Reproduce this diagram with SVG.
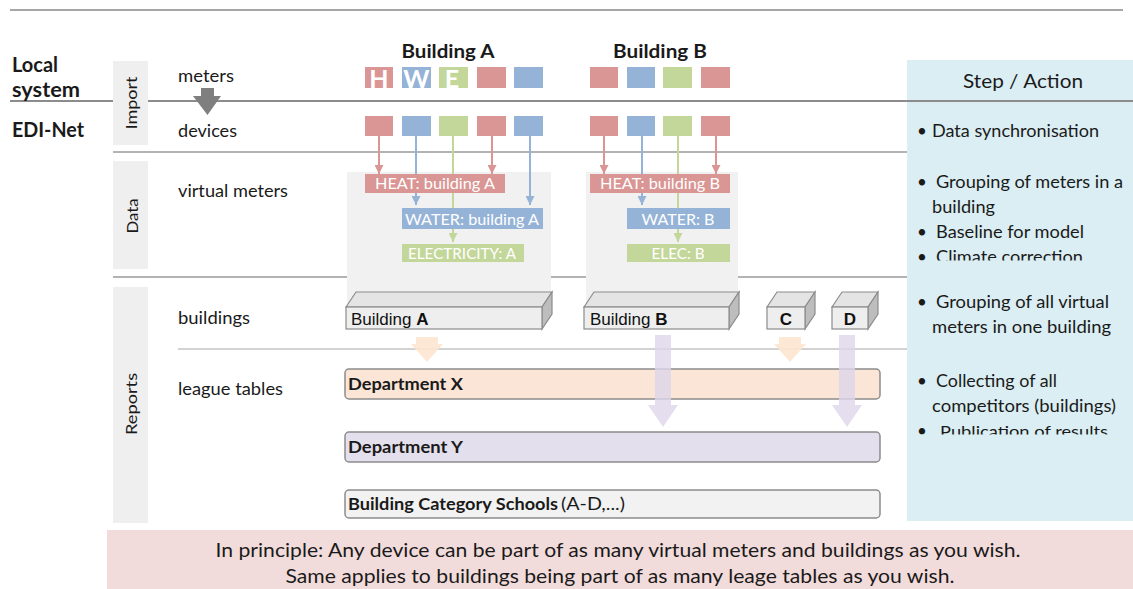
<svg xmlns="http://www.w3.org/2000/svg" width="1133" height="589" viewBox="0 0 1133 589">
<style>
.t{font-family:Lato,"Open Sans","Liberation Sans",sans-serif;fill:#1a1a1a}
.b{font-weight:bold}
.lbl{font-size:17px}
.tab{fill:#efefef}
.sep{stroke:#9a9a9a;stroke-width:1.5}
.red{fill:#da9694}
.blue{fill:#95b3d7}
.green{fill:#c4d79b}
.wt{font-family:Lato,"Open Sans",sans-serif;fill:#ffffff;font-size:16px;text-anchor:middle}
.cont{fill:#f1f1f1}
.front{fill:#eeeeee;stroke:#8c8c8c;stroke-width:1.2}
.top{fill:#e4e4e4;stroke:#8c8c8c;stroke-width:1.2}
.side{fill:#bdbdbd;stroke:#8c8c8c;stroke-width:1.2}
.bt{font-family:"Liberation Sans",Arial,sans-serif;font-size:17px;fill:#111}
.bar{stroke:#8c8c8c;stroke-width:1.5}
.rp{font-family:Lato,"Open Sans",sans-serif;font-size:17px;fill:#1a1a1a}
.oar{fill:#fde5d2;opacity:0.9}
.lar{fill:#ddd6ea;opacity:0.8}
</style>
<defs>
<marker id="mr" markerWidth="9" markerHeight="9" refX="9" refY="4.5" orient="auto" markerUnits="userSpaceOnUse"><path d="M0,0 L9,4.5 L0,9 z" fill="#da9694"/></marker>
<marker id="mb" markerWidth="9" markerHeight="9" refX="9" refY="4.5" orient="auto" markerUnits="userSpaceOnUse"><path d="M0,0 L9,4.5 L0,9 z" fill="#95b3d7"/></marker>
<marker id="mg" markerWidth="9" markerHeight="9" refX="9" refY="4.5" orient="auto" markerUnits="userSpaceOnUse"><path d="M0,0 L9,4.5 L0,9 z" fill="#c4d79b"/></marker>
<clipPath id="c1"><rect x="907" y="240" width="226" height="20.5"/></clipPath>
<clipPath id="c2"><rect x="907" y="415" width="226" height="19.5"/></clipPath>
</defs>

<rect width="1133" height="589" fill="#ffffff"/>

<!-- right panel -->
<g id="steps">
<rect x="907" y="60" width="226" height="461" fill="#daeef3"/>
<text class="rp" x="1023" y="88" text-anchor="middle" style="font-size:20px" textLength="120" lengthAdjust="spacingAndGlyphs">Step / Action</text>
<text class="rp" x="917" y="137">•</text><text class="rp" x="932" y="137" textLength="167" lengthAdjust="spacingAndGlyphs">Data synchronisation</text>
<text class="rp" x="917" y="188">•</text><text class="rp" x="936" y="188" textLength="187" lengthAdjust="spacingAndGlyphs">Grouping of meters in a</text>
<text class="rp" x="932" y="213" textLength="63" lengthAdjust="spacingAndGlyphs">building</text>
<text class="rp" x="917" y="238">•</text><text class="rp" x="936" y="238" textLength="148" lengthAdjust="spacingAndGlyphs">Baseline for model</text>
<g clip-path="url(#c1)"><text class="rp" x="917" y="263">•</text><text class="rp" x="936" y="263" textLength="147" lengthAdjust="spacingAndGlyphs">Climate correction</text></g>
<text class="rp" x="917" y="308">•</text><text class="rp" x="936" y="308" textLength="173" lengthAdjust="spacingAndGlyphs">Grouping of all virtual</text>
<text class="rp" x="932" y="333" textLength="179" lengthAdjust="spacingAndGlyphs">meters in one building</text>
<text class="rp" x="917" y="387">•</text><text class="rp" x="936" y="387" textLength="121" lengthAdjust="spacingAndGlyphs">Collecting of all</text>
<text class="rp" x="932" y="412" textLength="184" lengthAdjust="spacingAndGlyphs">competitors (buildings)</text>
<g clip-path="url(#c2)"><text class="rp" x="917" y="437">•</text><text class="rp" x="940" y="437" style="font-size:16px" textLength="168" lengthAdjust="spacingAndGlyphs">Publication of results</text></g>
</g>

<!-- separators -->
<g id="separators">
<line x1="10" y1="10" x2="1123" y2="10" stroke="#a6a6a6" stroke-width="2"/>
<line x1="10" y1="101" x2="113" y2="101" stroke="#8c8c8c" stroke-width="2"/>
<line x1="148" y1="101" x2="1133" y2="101" stroke="#8c8c8c" stroke-width="2"/>
<line class="sep" x1="113" y1="152" x2="907" y2="152"/>
<line class="sep" x1="113" y1="277" x2="907" y2="277"/>
<line x1="178" y1="349" x2="907" y2="349" stroke="#a6a6a6" stroke-width="1"/>
</g>

<!-- left labels -->
<g id="systems">
<text class="t b" x="12" y="72" style="font-size:20px" textLength="46" lengthAdjust="spacingAndGlyphs">Local</text>
<text class="t b" x="12" y="97" style="font-size:20px" textLength="68" lengthAdjust="spacingAndGlyphs">system</text>
<text class="t b" x="12" y="137" style="font-size:20px" textLength="72" lengthAdjust="spacingAndGlyphs">EDI-Net</text>
</g>

<g id="tab-import">
<rect class="tab" x="113" y="61" width="35" height="84"/>
<text class="t" transform="translate(137,103) rotate(-90)" text-anchor="middle" style="font-size:16px" textLength="53" lengthAdjust="spacingAndGlyphs">Import</text>
</g>
<g id="tab-data">
<rect class="tab" x="113" y="161" width="35" height="108"/>
<text class="t" transform="translate(138,216) rotate(-90)" text-anchor="middle" style="font-size:16px" textLength="35" lengthAdjust="spacingAndGlyphs">Data</text>
</g>
<g id="tab-reports">
<rect class="tab" x="113" y="287" width="35" height="236"/>
<text class="t" transform="translate(137,404) rotate(-90)" text-anchor="middle" style="font-size:16px" textLength="62" lengthAdjust="spacingAndGlyphs">Reports</text>
</g>

<g id="row-labels">
<text class="t lbl" x="178" y="82" textLength="56" lengthAdjust="spacingAndGlyphs">meters</text>
<text class="t lbl" x="178" y="137" textLength="59" lengthAdjust="spacingAndGlyphs">devices</text>
<text class="t lbl" x="178" y="197" textLength="110" lengthAdjust="spacingAndGlyphs">virtual meters</text>
<text class="t lbl" x="178" y="324" textLength="72" lengthAdjust="spacingAndGlyphs">buildings</text>
<text class="t lbl" x="178" y="395" textLength="105" lengthAdjust="spacingAndGlyphs">league tables</text>
</g>

<g id="import-arrow">
<polygon points="201,88 214,88 214,96 221,96 207.5,115 193,96 201,96" fill="#7f7f7f"/>
</g>

<!-- building titles -->
<g id="title-a"><text class="t b" x="448" y="58" text-anchor="middle" style="font-size:19px" textLength="93" lengthAdjust="spacingAndGlyphs">Building A</text></g>
<g id="title-b"><text class="t b" x="660" y="58" text-anchor="middle" style="font-size:19px" textLength="94" lengthAdjust="spacingAndGlyphs">Building B</text></g>

<!-- meters -->
<g id="meters-a">
<rect class="red" x="365" y="67" width="28" height="21"/>
<rect class="blue" x="402" y="67" width="29" height="21"/>
<rect class="green" x="439" y="67" width="29" height="21"/>
<rect class="red" x="477" y="67" width="29" height="21"/>
<rect class="blue" x="514" y="67" width="29" height="21"/>
<text class="wt" x="379" y="88" style="font-size:25px;font-weight:bold">H</text>
<text class="wt" x="416.5" y="88" style="font-size:25px;font-weight:bold">W</text>
<text class="wt" x="452" y="88" style="font-size:25px;font-weight:bold">E</text>
</g>
<g id="meters-b">
<rect class="red" x="590" y="67" width="28" height="21"/>
<rect class="blue" x="627" y="67" width="28" height="21"/>
<rect class="green" x="663" y="67" width="29" height="21"/>
<rect class="red" x="701" y="67" width="29" height="21"/>
</g>

<!-- devices -->
<g id="devices-a">
<rect class="red" x="365" y="116" width="28" height="20"/>
<rect class="blue" x="402" y="116" width="29" height="20"/>
<rect class="green" x="439" y="116" width="29" height="20"/>
<rect class="red" x="477" y="116" width="29" height="20"/>
<rect class="blue" x="514" y="116" width="29" height="20"/>
</g>
<g id="devices-b">
<rect class="red" x="590" y="116" width="28" height="20"/>
<rect class="blue" x="627" y="116" width="28" height="20"/>
<rect class="green" x="663" y="116" width="29" height="20"/>
<rect class="red" x="701" y="116" width="29" height="20"/>
</g>

<!-- virtual meter containers -->
<g id="container-a"><rect class="cont" x="347" y="172" width="204" height="133"/></g>
<g id="container-b"><rect class="cont" x="586" y="172" width="152" height="133"/></g>

<!-- connectors -->
<g id="connectors" stroke-width="2" fill="none">
<line x1="379" y1="136" x2="379" y2="174" stroke="#da9694" marker-end="url(#mr)"/>
<line x1="492" y1="136" x2="492" y2="174" stroke="#da9694" marker-end="url(#mr)"/>
<line x1="604" y1="136" x2="604" y2="174" stroke="#da9694" marker-end="url(#mr)"/>
<line x1="716" y1="136" x2="716" y2="174" stroke="#da9694" marker-end="url(#mr)"/>
<line x1="416" y1="136" x2="416" y2="205" stroke="#95b3d7" marker-end="url(#mb)"/>
<line x1="530" y1="136" x2="530" y2="205" stroke="#95b3d7" marker-end="url(#mb)"/>
<line x1="642" y1="136" x2="642" y2="205" stroke="#95b3d7" marker-end="url(#mb)"/>
<line x1="453" y1="136" x2="453" y2="242" stroke="#c4d79b" marker-end="url(#mg)"/>
<line x1="678" y1="136" x2="678" y2="242" stroke="#c4d79b" marker-end="url(#mg)"/>
</g>

<!-- virtual meters -->
<g id="vm-heat-a"><rect class="red" x="365" y="174" width="140" height="19"/><text class="wt" x="435" y="189" textLength="120" lengthAdjust="spacingAndGlyphs">HEAT: building A</text></g>
<g id="vm-water-a"><rect class="blue" x="402" y="208" width="141" height="21"/><text class="wt" x="472" y="225" textLength="134" lengthAdjust="spacingAndGlyphs">WATER: building A</text></g>
<g id="vm-elec-a"><rect class="green" x="402" y="244" width="122" height="18"/><text class="wt" x="462" y="259" textLength="108" lengthAdjust="spacingAndGlyphs">ELECTRICITY: A</text></g>
<g id="vm-heat-b"><rect class="red" x="590" y="174" width="140" height="19"/><text class="wt" x="660" y="189" textLength="120" lengthAdjust="spacingAndGlyphs">HEAT: building B</text></g>
<g id="vm-water-b"><rect class="blue" x="627" y="208" width="103" height="21"/><text class="wt" x="678" y="225" textLength="73" lengthAdjust="spacingAndGlyphs">WATER: B</text></g>
<g id="vm-elec-b"><rect class="green" x="627" y="244" width="103" height="18"/><text class="wt" x="678" y="259" textLength="53" lengthAdjust="spacingAndGlyphs">ELEC: B</text></g>

<!-- buildings -->
<g id="bldg-a">
<polygon class="top" points="346,307 356,292 552,292 542,307"/>
<polygon class="side" points="542,307 552,292 552,314 542,329"/>
<rect class="front" x="346" y="307" width="196" height="22"/>
<text class="bt" x="351" y="325">Building <tspan font-weight="bold">A</tspan></text>
</g>
<g id="bldg-b">
<polygon class="top" points="584,307 594,292 739,292 729,307"/>
<polygon class="side" points="729,307 739,292 739,314 729,329"/>
<rect class="front" x="584" y="307" width="145" height="22"/>
<text class="bt" x="590" y="325">Building <tspan font-weight="bold">B</tspan></text>
</g>
<g id="bldg-c">
<polygon class="top" points="767,307 777,292 815,292 805,307"/>
<polygon class="side" points="805,307 815,292 815,314 805,329"/>
<rect class="front" x="767" y="307" width="38" height="22"/>
<text class="bt b" x="786" y="325" text-anchor="middle">C</text>
</g>
<g id="bldg-d">
<polygon class="top" points="832,307 842,292 878,292 868,307"/>
<polygon class="side" points="868,307 878,292 878,314 868,329"/>
<rect class="front" x="832" y="307" width="36" height="22"/>
<text class="bt b" x="850" y="325" text-anchor="middle">D</text>
</g>

<!-- league tables -->
<g id="arrows-x">
<polygon class="oar" points="416,337 438,337 438,344 443,344 427,362 411,344 416,344"/>
<polygon class="oar" points="779,337 801,337 801,344 806,344 790,362 774,344 779,344"/>
</g>
<g id="dept-x">
<rect class="bar" x="345" y="369" width="535" height="30" rx="4" fill="#fbe5d6"/>
<text class="t b" x="348" y="390" style="font-size:17px" textLength="115" lengthAdjust="spacingAndGlyphs">Department X</text>
</g>
<g id="arrows-y">
<polygon class="lar" points="655,335 671,335 671,405 678,405 663,427 648,405 655,405"/>
<polygon class="lar" points="839,335 855,335 855,405 862,405 847,427 832,405 839,405"/>
</g>
<g id="dept-y">
<rect class="bar" x="345" y="432" width="535" height="30" rx="4" fill="#e4dfec"/>
<text class="t b" x="348" y="453" style="font-size:17px" textLength="115" lengthAdjust="spacingAndGlyphs">Department Y</text>
</g>
<g id="schools">
<rect class="bar" x="345" y="490" width="535" height="28" rx="4" fill="#f2f2f2"/>
<text class="t b" x="348" y="510" style="font-size:17px" textLength="210" lengthAdjust="spacingAndGlyphs">Building Category Schools</text>
<text class="t" x="561" y="510" style="font-size:17px" textLength="64" lengthAdjust="spacingAndGlyphs">(A-D,...)</text>
</g>

<!-- note -->
<g id="note">
<rect x="107" y="530" width="1026" height="59" fill="#f2dcdb"/>
<text class="t" x="618" y="557" text-anchor="middle" style="font-size:19px" textLength="805" lengthAdjust="spacingAndGlyphs">In principle: Any device can be part of as many virtual meters and buildings as you wish.</text>
<text class="t" x="620" y="583" text-anchor="middle" style="font-size:19px" textLength="669" lengthAdjust="spacingAndGlyphs">Same applies to buildings being part of as many leage tables as you wish.</text>
</g>
</svg>
